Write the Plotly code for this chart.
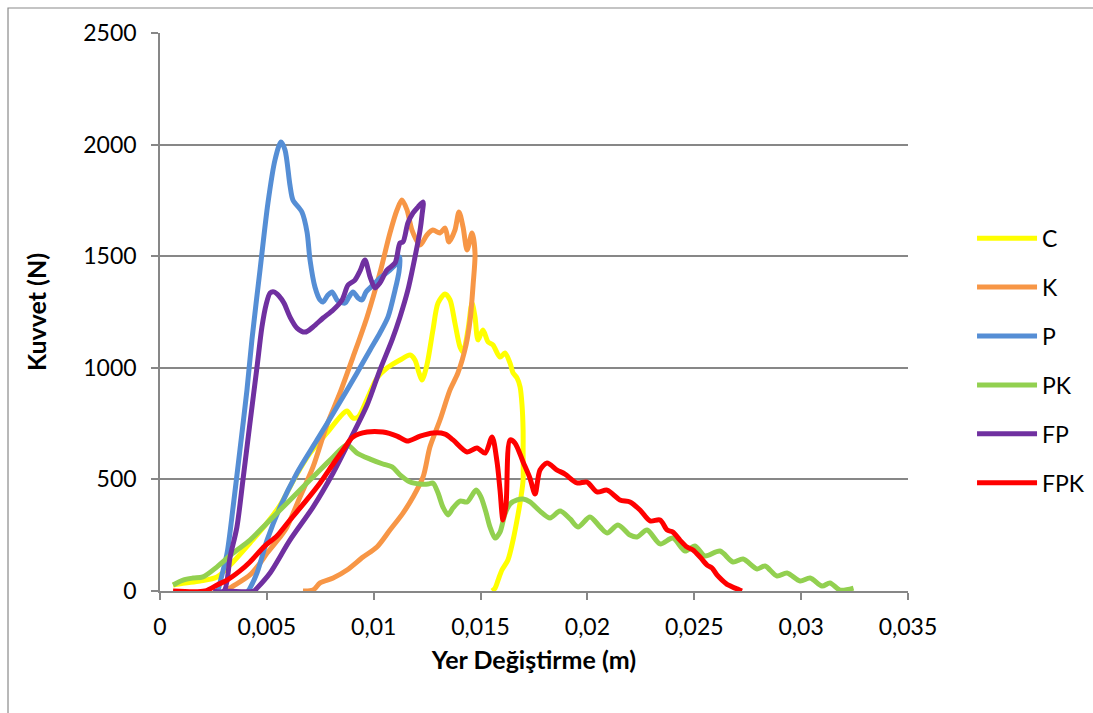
import plotly.graph_objects as go

# Force-displacement curves (displacement in m, force in N)
c_x = [0.00061, 0.00117, 0.00187, 0.00267, 0.00342, 0.00421, 0.00501, 0.00562, 0.00641, 0.00702,
       0.00781, 0.00842, 0.00875, 0.00903, 0.00927, 0.00969, 0.01015, 0.01062, 0.01123, 0.01170,
       0.01193, 0.01212, 0.01226, 0.01249, 0.01277, 0.01301, 0.01334, 0.01357, 0.01380, 0.01404,
       0.01418, 0.01441, 0.01460, 0.01474, 0.01488, 0.01511, 0.01535, 0.01558, 0.01591, 0.01614,
       0.01638, 0.01652, 0.01671, 0.01685, 0.01694, 0.01699, 0.01699, 0.01699, 0.01689, 0.01675,
       0.01652, 0.01628, 0.01600, 0.01582, 0.01568, 0.01554]
c_y = [27, 36, 45, 63, 130, 215, 305, 385, 524, 618,
       708, 780, 806, 775, 780, 860, 954, 999, 1035, 1057,
       1035, 977, 945, 1013, 1169, 1290, 1331, 1304, 1201, 1093,
       1071, 1169, 1290, 1228, 1125, 1169, 1116, 1102, 1048, 1066,
       1021, 977, 954, 914, 833, 721, 609, 497, 421, 341,
       228, 139, 94, 49, 13, 0]

k_x = [0.00304, 0.00351, 0.00421, 0.00468, 0.00501, 0.00562, 0.00594, 0.00655, 0.00716, 0.00781,
       0.00842, 0.00903, 0.00969, 0.01029, 0.01076, 0.01109, 0.01132, 0.01156, 0.01179, 0.01217,
       0.01249, 0.01277, 0.01310, 0.01334, 0.01352, 0.01380, 0.01399, 0.01418, 0.01437, 0.01460,
       0.01474, 0.01465, 0.01451, 0.01432, 0.01394, 0.01357, 0.01310, 0.01263, 0.01231, 0.01184,
       0.01137, 0.01076, 0.01015, 0.00950, 0.00875, 0.00810, 0.00749, 0.00716, 0.00669]
k_y = [0, 27, 72, 125, 170, 242, 287, 421, 556, 744,
       887, 1048, 1228, 1425, 1604, 1707, 1752, 1707, 1617, 1550,
       1595, 1617, 1604, 1626, 1564, 1617, 1698, 1631, 1528, 1604,
       1514, 1371, 1214, 1102, 977, 901, 766, 645, 511, 421,
       349, 273, 197, 152, 94, 58, 36, 4, 0]

p_x = [0.00271, 0.00290, 0.00314, 0.00342, 0.00374, 0.00407, 0.00430, 0.00468, 0.00505, 0.00538,
       0.00566, 0.00585, 0.00608, 0.00622, 0.00664, 0.00688, 0.00702, 0.00725, 0.00749, 0.00763,
       0.00786, 0.00805, 0.00828, 0.00842, 0.00866, 0.00884, 0.00903, 0.00927, 0.00945, 0.00964,
       0.00983, 0.01029, 0.01076, 0.01109, 0.01123, 0.01118, 0.01100, 0.01067, 0.01029, 0.00983,
       0.00922, 0.00828, 0.00735, 0.00641, 0.00562, 0.00501, 0.00454, 0.00421, 0.00412]
p_y = [0, 72, 170, 376, 632, 901, 1125, 1438, 1738, 1931,
       2012, 1976, 1819, 1752, 1698, 1608, 1483, 1362, 1304, 1295,
       1326, 1340, 1304, 1295, 1290, 1317, 1340, 1313, 1304, 1340,
       1358, 1402, 1438, 1470, 1496, 1429, 1349, 1228, 1156, 1080,
       977, 824, 677, 529, 376, 228, 81, 13, 0]

pk_x = [0.00061, 0.00108, 0.00154, 0.00201, 0.00267, 0.00342, 0.00421, 0.00501, 0.00576, 0.00655,
        0.00735, 0.00810, 0.00875, 0.00922, 0.00983, 0.01043, 0.01086, 0.01123, 0.01170, 0.01217,
        0.01254, 0.01277, 0.01301, 0.01324, 0.01348, 0.01371, 0.01404, 0.01437, 0.01479, 0.01502,
        0.01525, 0.01544, 0.01568, 0.01591, 0.01614, 0.01638, 0.01671, 0.01699, 0.01731, 0.01778,
        0.01825, 0.01872, 0.01919, 0.01956, 0.02012, 0.02059, 0.02092, 0.02143, 0.02199, 0.02232,
        0.02279, 0.02340, 0.02400, 0.02457, 0.02503, 0.02550, 0.02620, 0.02681, 0.02728, 0.02794,
        0.02831, 0.02887, 0.02934, 0.02995, 0.03042, 0.03098, 0.03135, 0.03182, 0.03245]
pk_y = [27, 49, 58, 63, 108, 170, 228, 305, 376, 452,
        529, 600, 654, 618, 591, 569, 556, 520, 488, 479,
        479, 484, 439, 376, 341, 372, 403, 399, 452, 421,
        354, 287, 237, 264, 345, 390, 408, 412, 399, 358,
        327, 358, 323, 287, 332, 287, 260, 296, 251, 242,
        273, 211, 237, 179, 202, 157, 179, 130, 143, 99,
        112, 67, 81, 45, 58, 22, 36, 4, 13]

fp_x = [0.00248, 0.00299, 0.00328, 0.00360, 0.00388, 0.00421, 0.00454, 0.00477, 0.00496, 0.00515,
        0.00533, 0.00557, 0.00580, 0.00608, 0.00641, 0.00679, 0.00716, 0.00763, 0.00810, 0.00852,
        0.00880, 0.00912, 0.00936, 0.00959, 0.00983, 0.01006, 0.01029, 0.01062, 0.01100, 0.01123,
        0.01137, 0.01160, 0.01184, 0.01207, 0.01231, 0.01226, 0.01217, 0.01193, 0.01160, 0.01123,
        0.01086, 0.01029, 0.00969, 0.00889, 0.00810, 0.00716, 0.00608, 0.00515, 0.00454, 0.00440,
        0.00299]
fp_y = [0, 0, 152, 287, 497, 753, 1004, 1183, 1281, 1335,
        1340, 1322, 1290, 1228, 1178, 1160, 1183, 1223, 1259, 1304,
        1371, 1393, 1434, 1483, 1407, 1358, 1380, 1438, 1470, 1559,
        1564, 1649, 1694, 1720, 1743, 1685, 1617, 1496, 1349, 1228,
        1125, 990, 833, 677, 529, 376, 228, 81, 13, 0,
        0]

fpk_x = [0.00061, 0.00211, 0.00267, 0.00314, 0.00374, 0.00421, 0.00491, 0.00547, 0.00608, 0.00679,
         0.00749, 0.00810, 0.00856, 0.00903, 0.00969, 0.01043, 0.01109, 0.01156, 0.01217, 0.01277,
         0.01334, 0.01371, 0.01437, 0.01483, 0.01521, 0.01554, 0.01577, 0.01591, 0.01605, 0.01619,
         0.01638, 0.01661, 0.01699, 0.01731, 0.01755, 0.01778, 0.01811, 0.01858, 0.01895, 0.01951,
         0.01998, 0.02045, 0.02092, 0.02152, 0.02199, 0.02246, 0.02293, 0.02340, 0.02373, 0.02400,
         0.02433, 0.02466, 0.02494, 0.02527, 0.02560, 0.02583, 0.02606, 0.02630, 0.02658, 0.02691,
         0.02723]
fpk_y = [0, 0, 27, 49, 90, 130, 202, 246, 318, 399,
         484, 569, 632, 690, 712, 712, 694, 672, 694, 708,
         703, 677, 623, 641, 618, 690, 578, 452, 318, 385,
         677, 663, 578, 506, 435, 542, 573, 542, 524, 484,
         488, 444, 452, 408, 399, 363, 314, 318, 273, 264,
         228, 197, 184, 152, 116, 103, 72, 49, 27, 13,
         0]

series_names = ["C", "K", "P", "PK", "FP", "FPK"]
series_x = [c_x, k_x, p_x, pk_x, fp_x, fpk_x]
series_y = [c_y, k_y, p_y, pk_y, fp_y, fpk_y]
series_colors = ["#FFFF00", "#F79646", "#558ED5", "#92D050", "#7030A0", "#FF0000"]

x_ticks = [0, 0.005, 0.01, 0.015, 0.02, 0.025, 0.03, 0.035]
x_tick_text = ["0", "0,005", "0,01", "0,015", "0,02", "0,025", "0,03", "0,035"]
y_ticks = [0, 500, 1000, 1500, 2000, 2500]
y_tick_text = ["0", "500", "1000", "1500", "2000", "2500"]

FONT = "Lato, Calibri, 'Open Sans', sans-serif"
GRID = "#878787"

fig = go.Figure()
for name, xs, ys, col in zip(series_names, series_x, series_y, series_colors):
    fig.add_trace(go.Scatter(
        x=xs, y=ys, name=name, mode="lines", legendgroup=name,
        line=dict(color=col, width=5, shape="spline", smoothing=0.8),
    ))

fig.update_layout(
    width=1093, height=713, autosize=False,
    margin=dict(l=160, r=185, t=33, b=122, autoexpand=False),
    paper_bgcolor="white", plot_bgcolor="white",
    font=dict(family=FONT, size=23, color="black"),
    showlegend=True,
    legend=dict(
        x=1.0856, xanchor="left", y=0.6707, yanchor="top",
        font=dict(family=FONT, size=23, color="black"),
        tracegroupgap=16, itemwidth=60,
        bgcolor="rgba(0,0,0,0)",
    ),
    xaxis=dict(
        range=[0, 0.035], tickmode="array", tickvals=x_ticks, ticktext=x_tick_text,
        showgrid=False, zeroline=False,
        showline=True, linecolor=GRID, linewidth=1.5,
        ticks="outside", ticklen=7, tickwidth=1.5, tickcolor=GRID,
        ticklabelstandoff=8,
        tickfont=dict(family=FONT, size=23),
        title=dict(text="<b>Yer Değiştirme (m)</b>", font=dict(family=FONT, size=25), standoff=12),
    ),
    yaxis=dict(
        range=[0, 2500], tickmode="array", tickvals=y_ticks, ticktext=y_tick_text,
        showgrid=True, gridcolor=GRID, gridwidth=1.5, zeroline=False,
        showline=True, linecolor=GRID, linewidth=1.5,
        ticks="outside", ticklen=7, tickwidth=1.5, tickcolor=GRID,
        ticklabelstandoff=10,
        tickfont=dict(family=FONT, size=23),
        title=dict(text="<b>Kuvvet (N)</b>", font=dict(family=FONT, size=25), standoff=30),
    ),
    shapes=[dict(
        type="rect", xref="paper", yref="paper",
        x0=-0.2032, x1=1.6, y0=-0.6, y1=1.0448,
        line=dict(color="#8a8a8a", width=1.2), fillcolor="rgba(0,0,0,0)", layer="below",
    )],
)

fig.write_html("out.html")
